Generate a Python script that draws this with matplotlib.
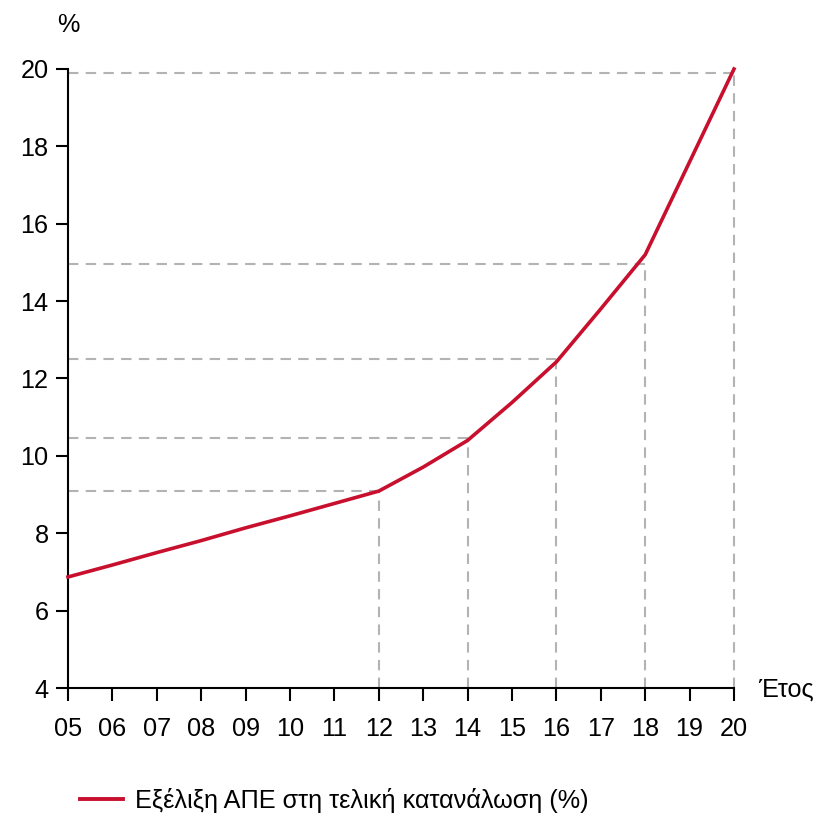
import matplotlib
matplotlib.use("Agg")
import matplotlib.pyplot as plt
from matplotlib.lines import Line2D

plt.rcParams['font.family'] = ['Liberation Sans', 'DejaVu Sans']

years = list(range(2005, 2021))
res_share = [6.87, 7.18, 7.5, 7.81, 8.14, 8.45, 8.77, 9.09,
             9.71, 10.4, 11.38, 12.43, 13.8, 15.2, 17.6, 20.0]
x_tick_labels = ["05", "06", "07", "08", "09", "10", "11", "12",
                 "13", "14", "15", "16", "17", "18", "19", "20"]
y_ticks = [4, 6, 8, 10, 12, 14, 16, 18, 20]

# reference guides: (year, level)
guide_years = [2012, 2014, 2016, 2018, 2020]
guide_levels = [9.1, 10.45, 12.5, 14.95, 19.9]

series_label = "Εξέλιξη ΑΠΕ στη τελική κατανάλωση (%)"

line_color = "#c8102e"
guide_color = "#b3b3b3"
fs = 18.2

fig = plt.figure(figsize=(8.2, 8.13), dpi=100)
ax = fig.add_axes([68 / 820, 1 - 688 / 813, (734 - 68) / 820, (688 - 69) / 813])

for gx, gy in zip(guide_years, guide_levels):
    ax.plot([2005, gx], [gy, gy], color=guide_color, lw=1.5,
            dashes=(5, 3.5), zorder=1, clip_on=False)
    ax.plot([gx, gx], [4, gy], color=guide_color, lw=1.5,
            dashes=(5, 3.5), zorder=1, clip_on=False)

ax.plot(years, res_share, color=line_color, lw=2.6, zorder=3,
        solid_joinstyle='round', clip_on=False)

ax.set_xlim(2005, 2020)
ax.set_ylim(4, 20)
ax.set_xticks(years)
ax.set_xticklabels(x_tick_labels)
ax.set_yticks(y_ticks)
ax.set_yticklabels([str(v) for v in y_ticks])

for side in ("top", "right"):
    ax.spines[side].set_visible(False)
for side in ("left", "bottom"):
    ax.spines[side].set_linewidth(1.5)
    ax.spines[side].set_color("black")

ax.tick_params(axis='both', direction='out', length=9, width=1.5,
               labelsize=fs, colors='black')
ax.tick_params(axis='y', pad=5)
ax.tick_params(axis='x', pad=12)

fig.text(68 / 820, 1 - 25 / 813, "%", ha='center', va='center', fontsize=fs)
fig.text(758 / 820, 1 - 690 / 813, "Έτος", ha='left', va='center', fontsize=fs)

handle = Line2D([], [], color=line_color, lw=2.8)
fig.legend([handle], [series_label], loc='center left',
           bbox_to_anchor=(80 / 820, 1 - 800 / 813), frameon=False,
           borderpad=0, borderaxespad=0,
           fontsize=fs, handlelength=1.7, handletextpad=0.47)

fig.savefig("out.png", dpi=100, facecolor="white")
